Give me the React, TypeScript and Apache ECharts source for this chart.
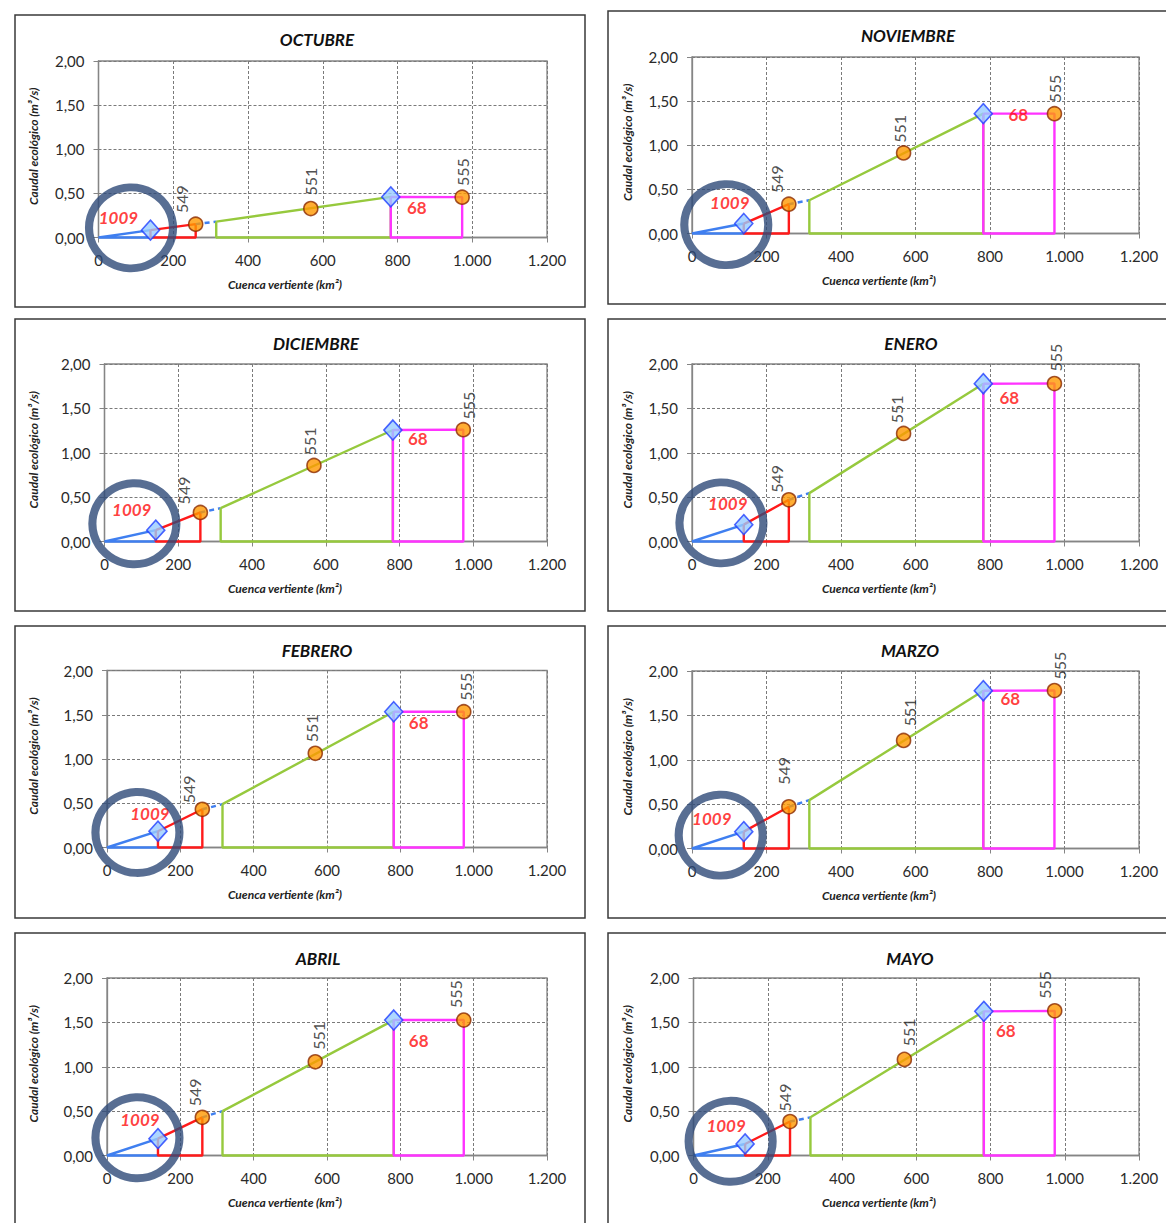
import React, { useEffect, useRef } from "react";
import * as echarts from "echarts";

// ---------------- DATA ----------------
const MONTHS = ["OCTUBRE", "NOVIEMBRE", "DICIEMBRE", "ENERO", "FEBRERO", "MARZO", "ABRIL", "MAYO"];

// catchment areas (km²) of the points along the river
const X_1009 = 139;
const X_549 = 260;
const X_TRAMO = 315;
const X_551 = 568;
const X_68 = 782;
const X_555 = 973;

// ecological flow (m³/s) per month
const Q_1009 = [0.083, 0.113, 0.128, 0.19, 0.184, 0.19, 0.19, 0.13];
const Q_549 = [0.151, 0.332, 0.327, 0.47, 0.432, 0.47, 0.43, 0.383];
const Q_TRAMO = [0.18, 0.377, 0.376, 0.545, 0.49, 0.545, 0.5, 0.43];
const Q_551 = [0.328, 0.913, 0.857, 1.218, 1.064, 1.218, 1.056, 1.083];
const Q_68 = [0.46, 1.358, 1.256, 1.778, 1.534, 1.778, 1.526, 1.624];
const Q_555 = [0.457, 1.358, 1.26, 1.78, 1.534, 1.78, 1.526, 1.63];

// highlight ring centres (data coords)
const RING_X = [87, 92, 81, 79, 83, 77, 83, 100];
const RING_Y = [0.109, 0.1, 0.2, 0.21, 0.17, 0.15, 0.2, 0.16];

const X_TICKS = [0, 200, 400, 600, 800, 1000, 1200];
const Y_TICKS = [0, 0.5, 1, 1.5, 2];

const STATION_LABELS = ["1009", "68"];
const POINT_LABELS = ["549", "551", "555"];

// ---------------- LAYOUT ----------------
const LAYOUT = [
  { gl: 98.5, gr: 547, gt: 61, gb: 237.5, bx: 15, by: 15, bw: 570, bh: 292, tx: 317, ty: 39 },
  { gl: 692, gr: 1139, gt: 57, gb: 233.5, bx: 608, by: 11, bw: 600, bh: 293, tx: 908, ty: 35 },
  { gl: 104.5, gr: 547, gt: 364, gb: 541.5, bx: 15, by: 319, bw: 570, bh: 292, tx: 316, ty: 343 },
  { gl: 692, gr: 1139, gt: 364, gb: 541.5, bx: 608, by: 319, bw: 600, bh: 292, tx: 911, ty: 343 },
  { gl: 107, gr: 547, gt: 670.5, gb: 847.5, bx: 15, by: 626, bw: 570, bh: 292, tx: 317, ty: 650 },
  { gl: 692, gr: 1139, gt: 671, gb: 848.5, bx: 608, by: 626, bw: 600, bh: 292, tx: 910, ty: 650 },
  { gl: 107, gr: 547, gt: 978, gb: 1155.5, bx: 15, by: 933, bw: 570, bh: 300, tx: 318, ty: 958 },
  { gl: 693.5, gr: 1139, gt: 978, gb: 1155.5, bx: 608, by: 933, bw: 600, bh: 300, tx: 910, ty: 958 },
];
// label offsets (screen px, dx, dy) relative to marker centres
const OFF_1009 = [[-32, -13], [-14, -21], [-24, -21], [-16, -21], [-8, -18], [-32, -13], [-18, -19], [-19, -18]];
const OFF_68 = [[26, 11], [35, 1], [25, 8], [26, 14], [25, 11], [27, 8], [25, 20], [22, 19]];
const OFF_PTS = [
  [[-14, -25], [0, -27], [0, -25]],
  [[-12, -25], [-4, -24], [0, -25]],
  [[-17, -22], [-4, -24], [5, -24]],
  [[-12, -21], [-7, -24], [1, -26]],
  [[-14, -20], [-4, -25], [2, -25]],
  [[-5, -36], [6, -28], [5, -25]],
  [[-8, -25], [3, -26], [-8, -26]],
  [[-6, -24], [4, -27], [-10, -26]],
];

const FONT = 'Lato, "Open Sans", "DejaVu Sans", sans-serif';
const GRID_GRAY = "#858585";
const BLUE = "#3f7ff0";
const RED = "#ff1a1a";
const GREEN = "#96c93d";
const PINK = "#ff33ff";

// rotated (90°) label offset: zrender rotates the offset vector with the text
const rot = (dx: number, dy: number) => [-dy, dx];

const fmtX = (v: number) =>
  v >= 1000 ? `${Math.floor(v / 1000)}.${String(v % 1000).padStart(3, "0")}` : String(v);
const fmtY = (v: number) => v.toFixed(2).replace(".", ",");

function buildOption() {
  const grid: any[] = [];
  const xAxis: any[] = [];
  const yAxis: any[] = [];
  const series: any[] = [];
  const graphic: any[] = [];

  MONTHS.forEach((m, i) => {
    const L = LAYOUT[i];
    const leftCol = i % 2 === 0;
    grid.push({
      left: L.gl,
      top: L.gt,
      width: L.gr - L.gl,
      height: L.gb - L.gt,
      show: true,
      borderColor: GRID_GRAY,
      borderWidth: 1.3,
      backgroundColor: "transparent",
    });
    const axisCommon = {
      gridIndex: i,
      type: "value",
      axisLine: { show: true, onZero: false, lineStyle: { color: GRID_GRAY, width: 1.3 } },
      axisTick: { show: true, length: 5, lineStyle: { color: GRID_GRAY } },
      splitLine: { show: true, lineStyle: { color: "#7a7a7a", type: [3, 2], width: 1 } },
    };
    xAxis.push({
      ...axisCommon,
      min: X_TICKS[0],
      max: X_TICKS[X_TICKS.length - 1],
      interval: X_TICKS[1] - X_TICKS[0],
      axisLabel: { formatter: fmtX, margin: 15, fontSize: 15, color: "#2a2a2a", fontFamily: FONT },
    });
    yAxis.push({
      ...axisCommon,
      min: Y_TICKS[0],
      max: Y_TICKS[Y_TICKS.length - 1],
      interval: Y_TICKS[1] - Y_TICKS[0],
      axisLabel: { formatter: fmtY, margin: 14, fontSize: 15, color: "#2a2a2a", fontFamily: FONT },
    });

    const lineBase = (data: any[], color: string, extra: any = {}) => ({
      type: "line",
      xAxisIndex: i,
      yAxisIndex: i,
      data,
      symbol: "none",
      clip: false,
      silent: true,
      z: 2,
      lineStyle: { color, width: 2.4, ...extra },
    });

    series.push(lineBase([[X_1009, Q_1009[i]], [0, 0], [X_1009, 0]], BLUE));
    series.push(
      lineBase(
        [[X_1009, Q_1009[i]], [X_549, Q_549[i]], [X_549, 0], [X_1009, 0], [X_1009, Q_1009[i]]],
        RED
      )
    );
    series.push(lineBase([[X_549, Q_549[i]], [X_TRAMO, Q_TRAMO[i]]], BLUE, { type: [5, 4] }));
    series.push(
      lineBase(
        [[X_TRAMO, Q_TRAMO[i]], [X_68, Q_68[i]], [X_68, 0], [X_TRAMO, 0], [X_TRAMO, Q_TRAMO[i]]],
        GREEN
      )
    );
    series.push(
      lineBase([[X_68, Q_68[i]], [X_555, Q_555[i]], [X_555, 0], [X_68, 0], [X_68, Q_68[i]]], PINK)
    );

    // stations (diamonds)
    series.push({
      type: "scatter",
      xAxisIndex: i,
      yAxisIndex: i,
      symbol: "diamond",
      symbolSize: [18, 20],
      clip: false,
      silent: true,
      z: 3,
      itemStyle: { color: "#99ccff", borderColor: "#1f3fff", borderWidth: 1.6 },
      data: [
        {
          value: [X_1009, Q_1009[i]],
          label: {
            show: true,
            formatter: STATION_LABELS[0],
            position: "inside",
            align: "center",
            verticalAlign: "middle",
            offset: OFF_1009[i],
            color: "#ff0d0d",
            fontSize: 17,
            fontWeight: "bold",
            fontStyle: "italic",
            fontFamily: FONT,
          },
        },
        {
          value: [X_68, Q_68[i]],
          label: {
            show: true,
            formatter: STATION_LABELS[1],
            position: "inside",
            align: "center",
            verticalAlign: "middle",
            offset: OFF_68[i],
            color: "#ff0d0d",
            fontSize: 17,
            fontWeight: "bold",
            fontFamily: FONT,
          },
        },
      ],
    });

    // points (orange circles)
    const pts = [
      [X_549, Q_549[i]],
      [X_551, Q_551[i]],
      [X_555, Q_555[i]],
    ];
    series.push({
      type: "scatter",
      xAxisIndex: i,
      yAxisIndex: i,
      symbol: "circle",
      symbolSize: 14,
      clip: false,
      silent: true,
      z: 3,
      itemStyle: { color: "#ff9900", borderColor: "#8b2a00", borderWidth: 1.6 },
      data: pts.map((p, k) => ({
        value: p,
        label: {
          show: true,
          formatter: POINT_LABELS[k],
          position: "inside",
          rotate: 90,
          align: "center",
          verticalAlign: "middle",
          offset: rot(OFF_PTS[i][k][0], OFF_PTS[i][k][1]),
          color: "#222222",
          fontSize: 16,
          fontFamily: FONT,
        },
      })),
    });

    // highlight ring
    series.push({
      type: "scatter",
      xAxisIndex: i,
      yAxisIndex: i,
      symbol: "circle",
      symbolSize: [84, 81],
      clip: false,
      silent: true,
      z: 5,
      itemStyle: { color: "rgba(0,0,0,0)", borderColor: "#2e4a78", borderWidth: 8 },
      data: [[RING_X[i], RING_Y[i]]],
    });

    // panel frame
    graphic.push({
      type: "rect",
      shape: { x: L.bx, y: L.by, width: L.bw, height: L.bh },
      style: { fill: "none", stroke: "#3a3a3a", lineWidth: 1.5 },
      silent: true,
      z: 0,
    });
    // title
    graphic.push({
      type: "text",
      x: L.tx,
      y: L.ty,
      silent: true,
      style: {
        text: m,
        align: "center",
        verticalAlign: "middle",
        fontSize: 17,
        fontWeight: "bold",
        fontStyle: "italic",
        fontFamily: FONT,
        fill: "#111",
      },
    });
    // y axis title
    graphic.push({
      type: "text",
      x: leftCol ? 33 : 627,
      y: (L.gt + L.gb) / 2 - 3,
      rotation: Math.PI / 2,
      silent: true,
      style: {
        text: "Caudal ecológico (m³/s)",
        align: "center",
        verticalAlign: "middle",
        fontSize: 12,
        fontWeight: "bold",
        fontStyle: "italic",
        fontFamily: FONT,
        fill: "#222",
      },
    });
    // x axis title
    graphic.push({
      type: "text",
      x: leftCol ? 285 : 879,
      y: L.gb + 46.5,
      silent: true,
      style: {
        text: "Cuenca vertiente (km²)",
        align: "center",
        verticalAlign: "middle",
        fontSize: 12,
        fontWeight: "bold",
        fontStyle: "italic",
        fontFamily: FONT,
        fill: "#222",
      },
    });
  });

  return {
    animation: false,
    backgroundColor: "#ffffff",
    grid,
    xAxis,
    yAxis,
    series,
    graphic,
  };
}

export default function App() {
  const ref = useRef<HTMLDivElement>(null);
  useEffect(() => {
    if (!ref.current) return;
    const chart = echarts.init(ref.current, null, { renderer: "svg" });
    chart.setOption(buildOption() as any);
    return () => chart.dispose();
  }, []);
  return (
    <div
      ref={ref}
      style={{ position: "absolute", left: 0, top: 0, width: 1166, height: 1223, background: "#fff" }}
    />
  );
}
